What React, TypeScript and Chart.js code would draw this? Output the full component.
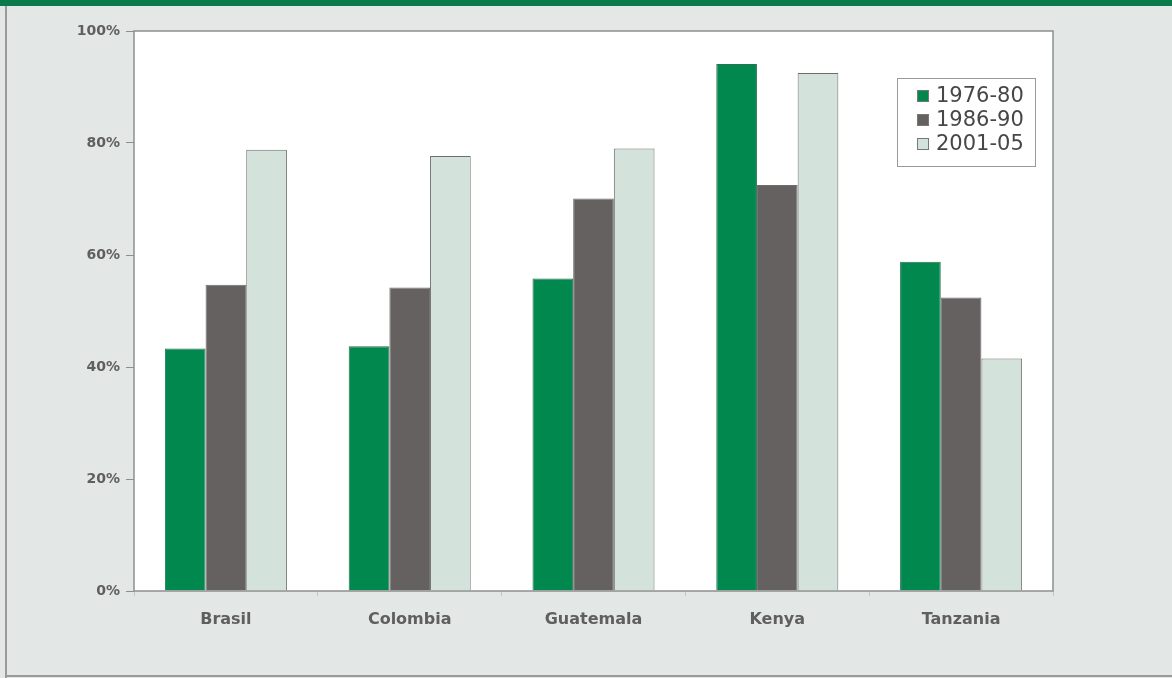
import React, { useEffect, useRef } from "react";
import { Chart, registerables } from "chart.js";

Chart.register(...registerables);

const categories = ["Brasil", "Colombia", "Guatemala", "Kenya", "Tanzania"];
const seriesLabels = ["1976-80", "1986-90", "2001-05"];
const values1976 = [43.3, 43.7, 55.8, 94.1, 58.8];
const values1986 = [54.7, 54.2, 70.1, 72.5, 52.4];
const values2001 = [78.8, 77.7, 79.0, 92.5, 41.5];
const yTicks = [0, 20, 40, 60, 80, 100];

const colors = ["#00884f", "#656160", "#d3e3dc"];
const FONT = "'DejaVu Sans', sans-serif";

const areaPlugin = {
  id: "areaPlugin",
  beforeDraw(chart: any) {
    const { ctx, chartArea: a } = chart;
    ctx.save();
    ctx.fillStyle = "#ffffff";
    ctx.fillRect(a.left, a.top, a.right - a.left, a.bottom - a.top);
    ctx.restore();
  },
  afterDatasetsDraw(chart: any) {
    const { ctx, chartArea: a } = chart;
    ctx.save();
    ctx.strokeStyle = "#8e8e8e";
    ctx.lineWidth = 1.5;
    ctx.strokeRect(a.left, a.top, a.right - a.left, a.bottom - a.top);
    // legend
    const bx = a.right - 156;
    const by = a.top + 47;
    const bw = 138;
    const bh = 88;
    ctx.fillStyle = "#ffffff";
    ctx.fillRect(bx, by, bw, bh);
    ctx.strokeStyle = "#9a9a9a";
    ctx.lineWidth = 1;
    ctx.strokeRect(bx + 0.5, by + 0.5, bw, bh);
    ctx.font = `21px ${FONT}`;
    ctx.textBaseline = "middle";
    chart.data.datasets.forEach((ds: any, i: number) => {
      const cy = by + 18 + i * 24;
      ctx.fillStyle = ds.backgroundColor;
      ctx.fillRect(bx + 20, cy - 6, 12, 12);
      ctx.strokeStyle = "#777";
      ctx.strokeRect(bx + 20.5, cy - 5.5, 11, 11);
      ctx.fillStyle = "#474747";
      ctx.fillText(ds.label, bx + 39, cy + 1);
    });
    ctx.restore();
  },
};

export default function App() {
  const ref = useRef<HTMLCanvasElement | null>(null);
  useEffect(() => {
    if (!ref.current) return;
    const mk = (label: string, data: number[], i: number) => ({
      label,
      data,
      backgroundColor: colors[i],
      borderColor: i === 0 ? "#2f6e50" : "#6e6e6e",
      borderWidth: 1,
      barPercentage: 1,
      categoryPercentage: 0.664,
    });
    const chart = new Chart(ref.current, {
      type: "bar",
      data: {
        labels: categories,
        datasets: [
          mk(seriesLabels[0], values1976, 0),
          mk(seriesLabels[1], values1986, 1),
          mk(seriesLabels[2], values2001, 2),
        ],
      },
      options: {
        animation: false,
        responsive: false,
        maintainAspectRatio: false,
        layout: { padding: { top: 31, right: 119, bottom: 0, left: 0 } },
        plugins: {
          legend: { display: false },
          tooltip: { enabled: false },
        },
        scales: {
          x: {
            grid: {
              display: true,
              offset: true,
              drawOnChartArea: false,
              drawTicks: true,
              tickLength: 5,
              color: "#c4c8c6",
            },
            border: { display: false },
            ticks: {
              color: "#5f5f5f",
              font: { family: FONT, size: 16, weight: "bold" },
              padding: 14,
            },
            afterFit(scale: any) {
              scale.height = 87;
            },
          },
          y: {
            min: 0,
            max: 100,
            afterBuildTicks(scale: any) {
              scale.ticks = yTicks.map((v) => ({ value: v }));
            },
            grid: {
              drawOnChartArea: false,
              drawTicks: true,
              tickLength: 8,
              color: "#8e8e8e",
            },
            border: { display: false },
            ticks: {
              color: "#5f5f5f",
              font: { family: FONT, size: 14, weight: "bold" },
              padding: 6,
              callback: (v: any) => `${v}%`,
            },
            afterFit(scale: any) {
              scale.width = 134;
            },
          },
        },
      },
      plugins: [areaPlugin],
    } as any);
    return () => chart.destroy();
  }, []);
  return (
    <div
      style={{
        position: "fixed",
        left: 0,
        top: 0,
        width: 1172,
        height: 678,
        background: "#e3e7e5",
        overflow: "hidden",
      }}
    >
      <div style={{ position: "absolute", left: 0, top: 0, width: 1172, height: 6, background: "#0b7a4b" }} />
      <div style={{ position: "absolute", left: 5, top: 6, width: 2, height: 672, background: "#9a9a9a" }} />
      <div style={{ position: "absolute", left: 5, top: 675, width: 1167, height: 2, background: "#9a9a9a" }} />
      <canvas ref={ref} width={1172} height={678} style={{ position: "absolute", left: 0, top: 0 }} />
    </div>
  );
}
